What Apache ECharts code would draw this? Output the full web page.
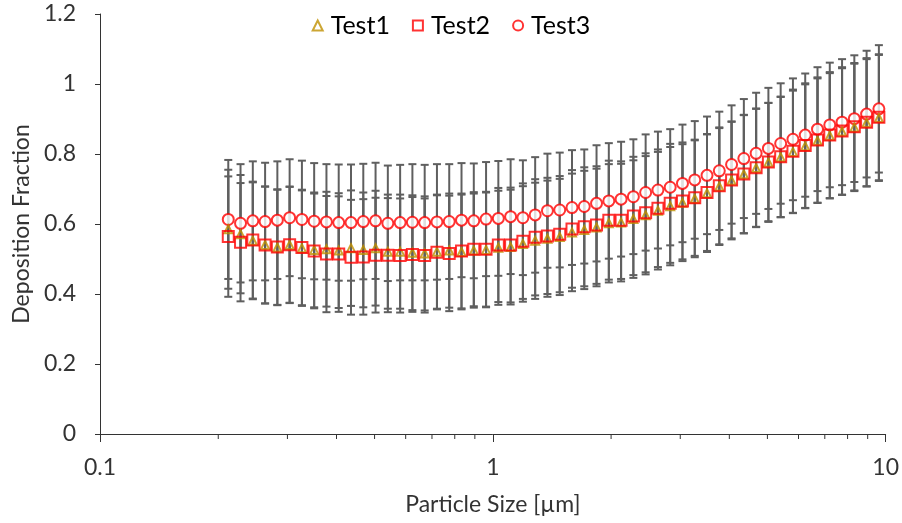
<!DOCTYPE html>
<html>
<head>
<meta charset="utf-8">
<script src="https://cdn.jsdelivr.net/npm/echarts@6/dist/echarts.min.js"></script>
<style>
  html, body { margin: 0; padding: 0; background: #fff; }
  #chart { width: 902px; height: 523px; }
</style>
</head>
<body>
<div id="chart"></div>
<script>
// particle size channels [µm]
const sizes = [
  0.2121, 0.2279, 0.2449, 0.2632, 0.2828, 0.3039, 0.3266, 0.3509, 0.3771, 0.4052,
  0.4355, 0.4680, 0.5029, 0.5404, 0.5808, 0.6241, 0.6707, 0.7207, 0.7745, 0.8323,
  0.8944, 0.9611, 1.0328, 1.1099, 1.1927, 1.2817, 1.3772, 1.4800, 1.5904, 1.7091,
  1.8365, 1.9736, 2.1209, 2.2791, 2.4491, 2.6319, 2.8282, 3.0392, 3.2659, 3.5097,
  3.7715, 4.0528, 4.3551, 4.6801, 5.0292, 5.4044, 5.8076, 6.2409, 6.7065, 7.2068,
  7.7446, 8.3224, 8.9433, 9.6105
];

const test1 = [
  0.585, 0.571, 0.552, 0.540, 0.533, 0.540, 0.531, 0.526, 0.528, 0.524,
  0.531, 0.526, 0.531, 0.521, 0.521, 0.518, 0.516, 0.521, 0.524, 0.520,
  0.524, 0.526, 0.532, 0.534, 0.543, 0.552, 0.558, 0.563, 0.576, 0.583,
  0.590, 0.602, 0.604, 0.614, 0.625, 0.638, 0.651, 0.661, 0.672, 0.688,
  0.707, 0.724, 0.742, 0.760, 0.776, 0.791, 0.806, 0.822, 0.838, 0.852,
  0.864, 0.876, 0.889, 0.903
];
const test2 = [
  0.564, 0.548, 0.554, 0.540, 0.534, 0.541, 0.533, 0.523, 0.514, 0.514,
  0.505, 0.506, 0.511, 0.511, 0.510, 0.513, 0.510, 0.519, 0.516, 0.523,
  0.528, 0.528, 0.540, 0.540, 0.551, 0.562, 0.566, 0.571, 0.586, 0.592,
  0.597, 0.611, 0.611, 0.623, 0.632, 0.645, 0.659, 0.666, 0.675, 0.690,
  0.709, 0.726, 0.743, 0.761, 0.777, 0.792, 0.808, 0.824, 0.840, 0.854,
  0.866, 0.878, 0.891, 0.905
];
const test3 = [
  0.613, 0.602, 0.609, 0.607, 0.611, 0.618, 0.613, 0.608, 0.606, 0.604,
  0.604, 0.607, 0.609, 0.602, 0.604, 0.605, 0.604, 0.606, 0.607, 0.611,
  0.609, 0.614, 0.616, 0.621, 0.618, 0.626, 0.638, 0.640, 0.647, 0.650,
  0.659, 0.666, 0.671, 0.678, 0.690, 0.697, 0.705, 0.716, 0.726, 0.739,
  0.752, 0.770, 0.787, 0.802, 0.816, 0.830, 0.842, 0.854, 0.871, 0.883,
  0.891, 0.901, 0.914, 0.929
];

// +/- error (standard deviation)
const err1 = [
  0.170, 0.169, 0.167, 0.167, 0.165, 0.166, 0.165, 0.164, 0.164, 0.164,
  0.165, 0.164, 0.164, 0.163, 0.163, 0.164, 0.163, 0.163, 0.163, 0.164,
  0.163, 0.164, 0.163, 0.164, 0.165, 0.166, 0.166, 0.166, 0.168, 0.169,
  0.168, 0.169, 0.168, 0.168, 0.169, 0.168, 0.169, 0.167, 0.167, 0.168,
  0.167, 0.168, 0.169, 0.169, 0.170, 0.172, 0.175, 0.177, 0.178, 0.179,
  0.181, 0.182, 0.182, 0.180
];
const err2 = [
  0.172, 0.169, 0.167, 0.167, 0.165, 0.166, 0.165, 0.164, 0.166, 0.165,
  0.164, 0.165, 0.164, 0.163, 0.163, 0.164, 0.163, 0.163, 0.165, 0.164,
  0.163, 0.164, 0.163, 0.164, 0.165, 0.166, 0.166, 0.166, 0.168, 0.170,
  0.168, 0.170, 0.168, 0.169, 0.170, 0.168, 0.170, 0.167, 0.166, 0.167,
  0.167, 0.167, 0.169, 0.169, 0.169, 0.172, 0.176, 0.178, 0.179, 0.180,
  0.182, 0.182, 0.183, 0.180
];
const err3 = [
  0.170, 0.169, 0.170, 0.168, 0.168, 0.167, 0.168, 0.166, 0.165, 0.166,
  0.166, 0.165, 0.166, 0.165, 0.165, 0.166, 0.165, 0.165, 0.164, 0.163,
  0.164, 0.163, 0.164, 0.164, 0.164, 0.165, 0.163, 0.164, 0.164, 0.163,
  0.166, 0.165, 0.164, 0.164, 0.166, 0.167, 0.166, 0.168, 0.168, 0.168,
  0.169, 0.169, 0.170, 0.173, 0.173, 0.172, 0.174, 0.176, 0.177, 0.178,
  0.180, 0.181, 0.181, 0.182
];

const minorTicks = [0.2, 0.3, 0.4, 0.5, 0.6, 0.7, 0.8, 0.9, 2, 3, 4, 5, 6, 7, 8, 9];

const FONT = 'Lato';
const TEXT = '#333333';
const BAR = '#5f5f5f';

function points(vals) {
  return sizes.map((x, i) => [x, vals[i]]);
}
function bars(vals, errs) {
  return sizes.map((x, i) => [x, vals[i] - errs[i], vals[i] + errs[i]]);
}

function renderErrorBar(params, api) {
  const x = api.value(0);
  const lo = api.coord([x, api.value(1)]);
  const hi = api.coord([x, api.value(2)]);
  const half = 4;
  const style = { stroke: BAR, lineWidth: 2 };
  return {
    type: 'group',
    children: [
      { type: 'line', shape: { x1: lo[0], y1: lo[1], x2: hi[0], y2: hi[1] }, style },
      { type: 'line', shape: { x1: hi[0] - half, y1: hi[1], x2: hi[0] + half, y2: hi[1] }, style },
      { type: 'line', shape: { x1: lo[0] - half, y1: lo[1], x2: lo[0] + half, y2: lo[1] }, style },
    ],
  };
}

function renderMinorTick(params, api) {
  const p = api.coord([api.value(0), 0]);
  return {
    type: 'line',
    shape: { x1: p[0], y1: p[1], x2: p[0], y2: p[1] + 5 },
    style: { stroke: TEXT, lineWidth: 1 },
  };
}

function errorSeries(name, vals, errs) {
  return {
    name: name + ' err',
    type: 'custom',
    renderItem: renderErrorBar,
    data: bars(vals, errs),
    encode: { x: 0, y: [1, 2] },
    silent: true,
    z: 1,
  };
}

const chart = echarts.init(document.getElementById('chart'), null, { renderer: 'canvas' });
chart.setOption({
  animation: false,
  textStyle: { fontFamily: FONT },
  grid: { left: 100, right: 16, top: 14, bottom: 89 },
  legend: {
    top: 8,
    left: 'center',
    itemGap: 22,
    itemWidth: 10,
    itemHeight: 10,
    data: ['Test1', 'Test2', 'Test3'],
    textStyle: { fontFamily: FONT, fontSize: 25, color: '#000', padding: [0, 0, 0, 3] },
  },
  xAxis: {
    type: 'log',
    logBase: 10,
    min: 0.1,
    max: 10,
    name: 'Particle Size [µm]',
    nameLocation: 'middle',
    nameGap: 59,
    nameTextStyle: { fontFamily: FONT, fontSize: 23, color: TEXT },
    axisLine: { lineStyle: { color: TEXT, width: 1 } },
    axisTick: { show: true, length: 8, lineStyle: { color: TEXT } },
    axisLabel: { fontSize: 23, color: TEXT, margin: 22 },
    splitLine: { show: false },
  },
  yAxis: {
    type: 'value',
    min: 0,
    max: 1.2,
    interval: 0.2,
    name: 'Deposition Fraction',
    nameLocation: 'middle',
    nameGap: 65,
    nameTextStyle: { fontFamily: FONT, fontSize: 23, color: TEXT },
    axisLine: { show: true, lineStyle: { color: TEXT, width: 1 } },
    axisTick: { show: true, length: 5, lineStyle: { color: TEXT } },
    axisLabel: { fontSize: 23, color: TEXT, margin: 24 },
    splitLine: { show: false },
  },
  series: [
    errorSeries('Test1', test1, err1),
    errorSeries('Test2', test2, err2),
    errorSeries('Test3', test3, err3),
    {
      name: 'minor',
      type: 'custom',
      renderItem: renderMinorTick,
      data: minorTicks.map(v => [v, 0]),
      encode: { x: 0, y: 1 },
      silent: true,
      clip: false,
      z: 1,
    },
    {
      name: 'Test3',
      type: 'scatter',
      data: points(test3),
      symbol: 'circle',
      symbolSize: 11,
      itemStyle: { color: '#fff', borderColor: '#ff0000', borderWidth: 2 },
      z: 3,
    },
    {
      name: 'Test1',
      type: 'scatter',
      data: points(test1),
      symbol: 'triangle',
      symbolSize: 8,
      itemStyle: { color: 'rgba(0,0,0,0)', borderColor: '#bf9000', borderWidth: 2 },
      z: 4,
    },
    {
      name: 'Test2',
      type: 'scatter',
      data: points(test2),
      symbol: 'rect',
      symbolSize: 11,
      itemStyle: { color: 'rgba(0,0,0,0)', borderColor: '#ff0000', borderWidth: 2 },
      z: 5,
    },
  ],
});
</script>
</body>
</html>
